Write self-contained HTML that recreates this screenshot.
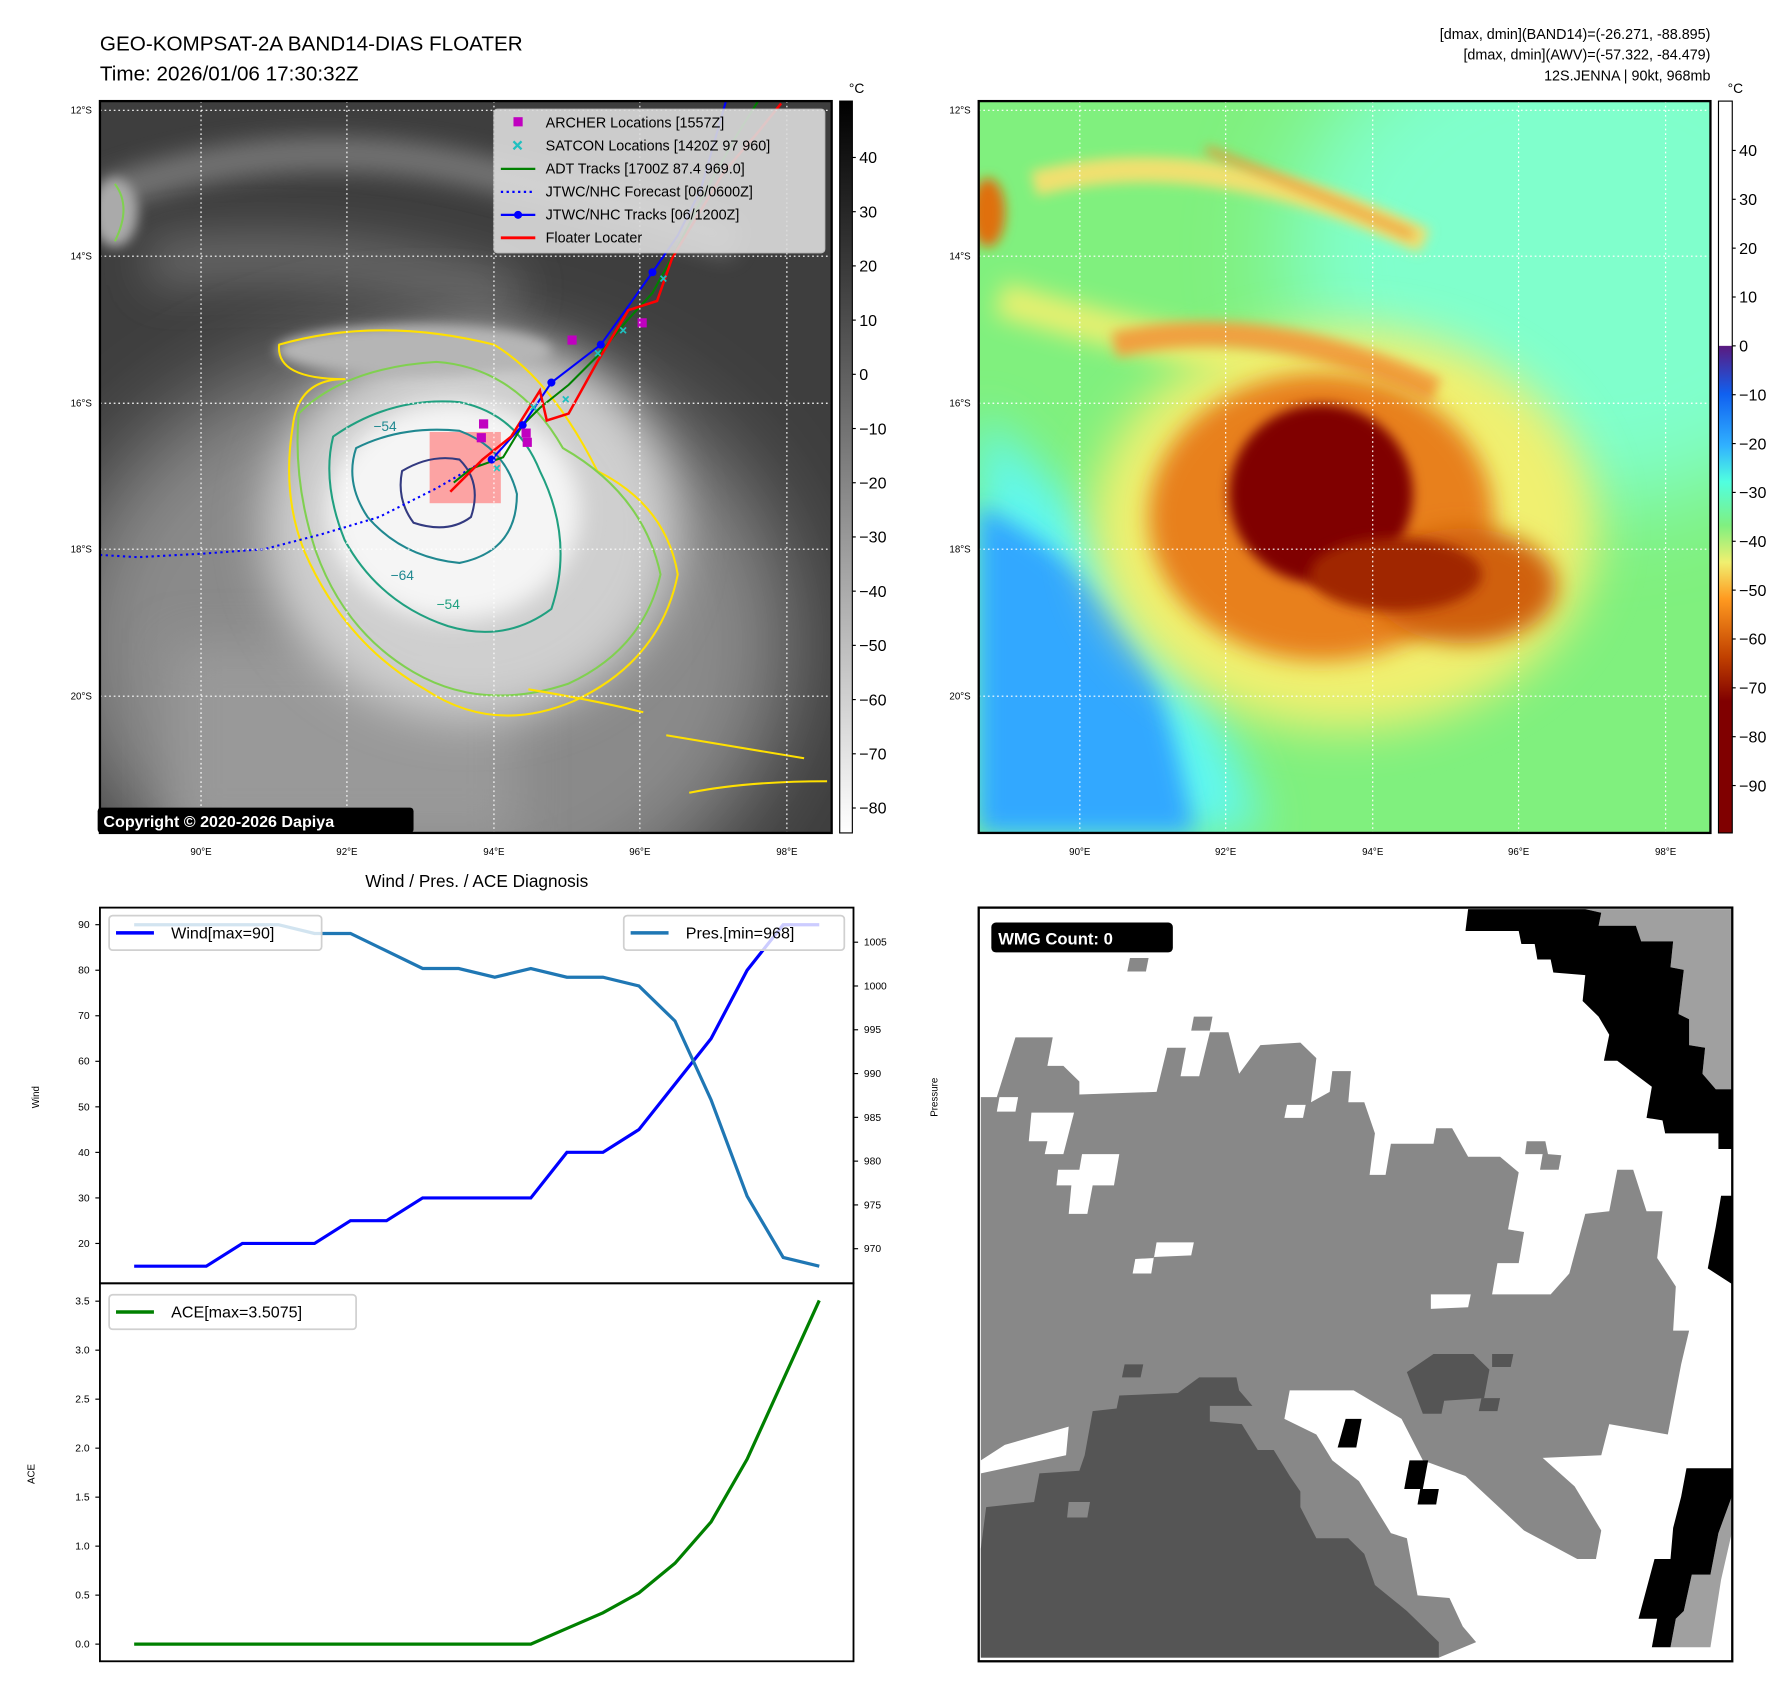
<!DOCTYPE html>
<html><head><meta charset="utf-8"><style>
html,body{margin:0;padding:0;background:#fff;}
svg{display:block;font-family:"Liberation Sans","DejaVu Sans",sans-serif;}
</style></head><body>
<svg id="root" width="1792" height="1690" viewBox="0 0 1560 1471" preserveAspectRatio="none" xmlns="http://www.w3.org/2000/svg">
<defs>
<filter id="b40" filterUnits="userSpaceOnUse" x="0" y="0" width="1600" height="1500"><feGaussianBlur stdDeviation="40"/></filter>
<filter id="b20" filterUnits="userSpaceOnUse" x="0" y="0" width="1600" height="1500"><feGaussianBlur stdDeviation="20"/></filter>
<filter id="b10" filterUnits="userSpaceOnUse" x="0" y="0" width="1600" height="1500"><feGaussianBlur stdDeviation="10"/></filter>
<filter id="b5" filterUnits="userSpaceOnUse" x="0" y="0" width="1600" height="1500"><feGaussianBlur stdDeviation="5"/></filter>
<clipPath id="c1"><rect x="87" y="88" width="637" height="637"/></clipPath>
<clipPath id="c2"><rect x="852" y="88" width="637" height="637"/></clipPath>
<clipPath id="c3"><rect x="852" y="790" width="656" height="656"/></clipPath>
<linearGradient id="gcb1" x1="0" y1="0" x2="0" y2="1"><stop offset="0" stop-color="#000"/><stop offset="1" stop-color="#fff"/></linearGradient>
<linearGradient id="gcb2" x1="0" y1="0" x2="0" y2="1">
<stop offset="0" stop-color="#fff"/><stop offset="0.334" stop-color="#fff"/>
<stop offset="0.335" stop-color="#5a1a80"/><stop offset="0.40" stop-color="#1060f0"/>
<stop offset="0.47" stop-color="#30b0ff"/><stop offset="0.52" stop-color="#50ffe0"/>
<stop offset="0.58" stop-color="#80f080"/><stop offset="0.63" stop-color="#f0f070"/>
<stop offset="0.68" stop-color="#ff9a20"/><stop offset="0.76" stop-color="#c04000"/>
<stop offset="0.82" stop-color="#800000"/><stop offset="1" stop-color="#800000"/>
</linearGradient>
</defs>

<text x="87" y="44" font-size="18">GEO-KOMPSAT-2A BAND14-DIAS FLOATER</text>
<text x="87" y="70" font-size="18">Time: 2026/01/06 17:30:32Z</text>
<g font-size="12.5" text-anchor="end">
<text x="1489" y="34">[dmax, dmin](BAND14)=(-26.271, -88.895)</text>
<text x="1489" y="52">[dmax, dmin](AWV)=(-57.322, -84.479)</text>
<text x="1489" y="70">12S.JENNA | 90kt, 968mb</text>
</g>

<!-- TOP LEFT MAP -->
<g clip-path="url(#c1)">
<rect x="87" y="88" width="637" height="637" fill="#3e3e3e"/>
<path d="M90,170 Q250,110 420,150 T640,210" stroke="#8a8a8a" stroke-width="30" fill="none" filter="url(#b10)" opacity="0.7"/>
<path d="M130,230 Q300,210 450,260" stroke="#6a6a6a" stroke-width="40" fill="none" filter="url(#b20)"/>
<ellipse cx="370" cy="560" rx="320" ry="260" fill="#8a8a8a" filter="url(#b40)"/>
<rect x="150" y="560" width="300" height="170" fill="#999" filter="url(#b20)"/>
<ellipse cx="410" cy="460" rx="180" ry="165" fill="#cfcfcf" filter="url(#b20)"/>
<ellipse cx="395" cy="445" rx="110" ry="95" fill="#f5f5f5" filter="url(#b10)"/>
<ellipse cx="360" cy="305" rx="120" ry="22" fill="#b5b5b5" filter="url(#b5)"/>
<ellipse cx="100" cy="185" rx="20" ry="30" fill="#aaa" filter="url(#b5)"/>
<rect x="374" y="376" width="62" height="62" fill="#ff8080" opacity="0.7"/>
<g fill="none" stroke-width="1.8" stroke-linejoin="round">
<path d="M243,300 Q330,275 430,300 Q480,330 520,410 Q580,440 590,500 Q575,575 500,610 Q430,640 370,600 Q300,560 265,480 Q245,430 255,370 Q260,330 300,330 Q240,330 243,300 Z" stroke="#ffe000"/>
<path d="M260,360 Q300,320 380,315 Q450,320 490,390 Q560,430 575,500 Q560,565 495,595 Q420,620 360,585 Q300,550 275,480 Q255,420 260,360 Z" stroke="#80d050"/>
<path d="M290,380 Q340,345 400,350 Q450,360 470,410 Q500,470 480,530 Q440,560 390,545 Q330,525 300,470 Q280,420 290,380 Z" stroke="#20a080"/>
<path d="M310,390 Q350,370 400,375 Q440,390 450,430 Q450,480 400,490 Q350,485 320,450 Q300,420 310,390 Z" stroke="#208890"/>
<path d="M350,410 Q375,395 400,400 Q420,420 410,450 Q390,465 360,455 Q345,435 350,410 Z" stroke="#333a80"/>
<path d="M100,160 Q115,180 100,210" stroke="#80d050"/>
<path d="M580,640 Q640,650 700,660 M600,690 Q650,680 720,680 M460,600 Q520,610 560,620" stroke="#ffe000"/>
</g>
<text x="325" y="375" font-size="12" fill="#208890">−54</text>
<text x="340" y="505" font-size="12" fill="#208890">−64</text>
<text x="380" y="530" font-size="12" fill="#20a080">−54</text>
<g fill="none" stroke-width="1.8">
<polyline points="87,483 120,485 175,482 230,478 280,465 330,450 380,425 420,402" stroke="#0000ff" stroke-dasharray="2,3"/>
<polyline points="395,420 410,408 438,398 455,370 470,355 495,335 520,310 545,280 568,255 590,215 615,165 640,120 660,88" stroke="#008000"/>
<polyline points="428,400 455,370 480,333 523,300 568,237 590,205 610,165 632,88" stroke="#0000ff"/>
<polyline points="392,428 420,400 445,380 470,340 476,366 495,360 520,315 547,270 572,262 585,225 600,200 630,150 660,115 680,90" stroke="#ff0000" stroke-width="2.2"/>
</g>
<g fill="#0000ff"><circle cx="428" cy="400" r="3.5"/><circle cx="455" cy="370" r="3.5"/><circle cx="480" cy="333" r="3.5"/><circle cx="523" cy="300" r="3.5"/><circle cx="568" cy="237" r="3.5"/></g>
<g fill="#c000c0"><rect x="417" y="365" width="8" height="8"/><rect x="415" y="377" width="8" height="8"/><rect x="454" y="373" width="8" height="8"/><rect x="455" y="381" width="8" height="8"/><rect x="494" y="292" width="8" height="8"/><rect x="555" y="277" width="8" height="8"/></g>
<g stroke="#20c0c0" stroke-width="1.5"><path d="M430,405l5,5m0,-5l-5,5M462,352l5,5m0,-5l-5,5M490,345l5,5m0,-5l-5,5M518,305l5,5m0,-5l-5,5M540,285l5,5m0,-5l-5,5M575,240l5,5m0,-5l-5,5"/></g>
<g stroke="#ffffff" stroke-width="1" stroke-dasharray="1.5,2.5">
<line x1="175" y1="88" x2="175" y2="725"/><line x1="302" y1="88" x2="302" y2="725"/><line x1="430" y1="88" x2="430" y2="725"/><line x1="557" y1="88" x2="557" y2="725"/><line x1="685" y1="88" x2="685" y2="725"/>
<line x1="87" y1="96" x2="724" y2="96"/><line x1="87" y1="223" x2="724" y2="223"/><line x1="87" y1="351" x2="724" y2="351"/><line x1="87" y1="478" x2="724" y2="478"/><line x1="87" y1="606" x2="724" y2="606"/>
</g>
</g>
<rect x="87" y="88" width="637" height="637" fill="none" stroke="#000" stroke-width="2"/>
<g>
<rect x="430" y="95" width="288" height="125" rx="3" fill="#dcdcdc" opacity="0.9" stroke="#ccc"/>
<rect x="447" y="102" width="8" height="8" fill="#c000c0"/>
<path d="M447,123l7,7m0,-7l-7,7" stroke="#20c0c0" stroke-width="2"/>
<line x1="436" y1="147" x2="466" y2="147" stroke="#008000" stroke-width="2"/>
<line x1="436" y1="167" x2="466" y2="167" stroke="#0000ff" stroke-width="2" stroke-dasharray="2,3"/>
<line x1="436" y1="187" x2="466" y2="187" stroke="#0000ff" stroke-width="2"/><circle cx="451" cy="187" r="3.5" fill="#0000ff"/>
<line x1="436" y1="207" x2="466" y2="207" stroke="#ff0000" stroke-width="2.5"/>
<g font-size="12.5">
<text x="475" y="111">ARCHER Locations [1557Z]</text>
<text x="475" y="131">SATCON Locations [1420Z 97 960]</text>
<text x="475" y="151">ADT Tracks [1700Z 87.4 969.0]</text>
<text x="475" y="171">JTWC/NHC Forecast [06/0600Z]</text>
<text x="475" y="191">JTWC/NHC Tracks [06/1200Z]</text>
<text x="475" y="211">Floater Locater</text>
</g></g>
<g>
<rect x="85" y="703" width="275" height="22" rx="3" fill="#000"/>
<text x="90" y="720" font-size="14" font-weight="bold" fill="#fff">Copyright © 2020-2026 Dapiya</text>
</g>
<g font-size="8.5" text-anchor="end">
<text x="80" y="99">12°S</text><text x="80" y="226">14°S</text><text x="80" y="354">16°S</text><text x="80" y="481">18°S</text><text x="80" y="609">20°S</text>
</g>
<g font-size="8.5" text-anchor="middle">
<text x="175" y="744">90°E</text><text x="302" y="744">92°E</text><text x="430" y="744">94°E</text><text x="557" y="744">96°E</text><text x="685" y="744">98°E</text>
</g>
<g>
<rect x="731" y="88" width="11" height="637" fill="url(#gcb1)" stroke="#000" stroke-width="1"/>
<text x="739" y="81" font-size="12">°C</text>
<g font-size="14" id="cb1t"></g>
</g>

<!-- TOP RIGHT MAP -->
<g clip-path="url(#c2)">
<rect x="852" y="88" width="637" height="637" fill="#80f07e"/>
<ellipse cx="1380" cy="220" rx="260" ry="220" fill="#80ffcc" filter="url(#b40)"/>
<path d="M852,360 Q960,450 1040,580 Q1080,660 1100,725 L852,725 Z" fill="#60f8f0" filter="url(#b20)"/>
<path d="M852,440 Q960,490 1010,600 Q1030,670 1040,725 L852,725 Z" fill="#30a8ff" filter="url(#b10)"/>
<path d="M900,160 Q1050,120 1240,210" stroke="#f0e070" stroke-width="22" fill="none" filter="url(#b5)"/>
<path d="M1050,130 Q1150,170 1230,205" stroke="#f09030" stroke-width="6" fill="none" filter="url(#b5)"/>
<path d="M870,260 Q1000,300 1270,350" stroke="#e8f070" stroke-width="30" fill="none" filter="url(#b10)"/>
<ellipse cx="1170" cy="460" rx="220" ry="175" fill="#f0f070" filter="url(#b20)"/>
<path d="M970,300 Q1100,270 1250,340" stroke="#f0a040" stroke-width="22" fill="none" filter="url(#b5)"/>
<ellipse cx="1150" cy="450" rx="150" ry="125" fill="#e8801a" filter="url(#b10)"/>
<ellipse cx="1275" cy="510" rx="80" ry="50" fill="#d06010" filter="url(#b10)"/>
<ellipse cx="1150" cy="430" rx="80" ry="78" fill="#800000" filter="url(#b5)"/>
<ellipse cx="1215" cy="500" rx="75" ry="32" fill="#a02800" filter="url(#b5)"/>
<ellipse cx="860" cy="185" rx="15" ry="30" fill="#e07010" filter="url(#b5)"/>
<g stroke="#ffffff" stroke-width="1" stroke-dasharray="1.5,2.5">
<line x1="940" y1="88" x2="940" y2="725"/><line x1="1067" y1="88" x2="1067" y2="725"/><line x1="1195" y1="88" x2="1195" y2="725"/><line x1="1322" y1="88" x2="1322" y2="725"/><line x1="1450" y1="88" x2="1450" y2="725"/>
<line x1="852" y1="96" x2="1489" y2="96"/><line x1="852" y1="223" x2="1489" y2="223"/><line x1="852" y1="351" x2="1489" y2="351"/><line x1="852" y1="478" x2="1489" y2="478"/><line x1="852" y1="606" x2="1489" y2="606"/>
</g>
</g>
<rect x="852" y="88" width="637" height="637" fill="none" stroke="#000" stroke-width="2"/>
<g font-size="8.5" text-anchor="end">
<text x="845" y="99">12°S</text><text x="845" y="226">14°S</text><text x="845" y="354">16°S</text><text x="845" y="481">18°S</text><text x="845" y="609">20°S</text>
</g>
<g font-size="8.5" text-anchor="middle">
<text x="940" y="744">90°E</text><text x="1067" y="744">92°E</text><text x="1195" y="744">94°E</text><text x="1322" y="744">96°E</text><text x="1450" y="744">98°E</text>
</g>
<g>
<rect x="1496" y="88" width="12" height="637" fill="url(#gcb2)" stroke="#000" stroke-width="1"/>
<text x="1504" y="81" font-size="12">°C</text>
<g font-size="14" id="cb2t"></g>
</g>

<text x="415" y="772" font-size="15" text-anchor="middle">Wind / Pres. / ACE Diagnosis</text>
<g id="chart"></g>

<g clip-path="url(#c3)">
<rect x="852" y="790" width="656" height="656" fill="#fff"/>
<g transform="translate(852,790) scale(0.4636,0.4518) translate(-26,-45)">
<polygon fill="#888" points="30,410 60,410 95,295 165,295 155,350 185,350 215,380 215,405 360,400 380,315 415,315 405,370 440,370 460,285 495,285 515,365 555,310 630,305 660,335 650,420 685,400 690,360 725,360 720,420 750,420 770,480 760,560 790,560 800,500 880,500 885,470 915,470 945,525 1005,525 1040,555 1020,665 1050,670 1040,730 1000,730 990,790 1100,790 1135,750 1165,635 1210,630 1225,550 1255,550 1280,630 1310,630 1300,720 1335,775 1330,860 1360,860 1345,925 1320,1060 1210,1040 1195,1100 1085,1105 1145,1160 1195,1245 1185,1300 1150,1300 1050,1245 940,1140 860,1110 820,1030 730,975 610,975 600,1030 660,1060 690,1110 740,1150 770,1200 800,1250 830,1260 850,1370 910,1375 935,1430 960,1460 890,1490 30,1490"/>
<polygon fill="#555" points="30,1280 40,1200 130,1190 140,1135 215,1130 225,1100 240,1015 285,1010 290,985 400,980 440,950 510,950 515,975 540,1005 460,1005 460,1035 520,1040 550,1090 580,1090 610,1140 630,1170 630,1200 660,1260 720,1260 750,1290 770,1350 830,1400 860,1430 890,1460 890,1490 30,1490"/>
<polygon fill="#555" points="830,940 880,905 955,905 985,935 975,990 900,995 895,1020 860,1020"/>
<polygon fill="#555" points="990,905 1030,905 1025,930 990,930"/>
<polygon fill="#555" points="970,990 1005,990 1000,1015 965,1015"/>
<polygon fill="#555" points="300,925 335,925 330,950 295,950"/>
<polygon fill="#fff" points="30,1110 75,1080 195,1045 190,1100 30,1135"/>
<polygon fill="#fff" points="65,410 100,410 95,438 60,438"/>
<polygon fill="#fff" points="125,440 205,440 185,520 150,520 155,495 120,495"/>
<polygon fill="#fff" points="175,550 215,550 220,520 290,520 280,580 240,580 230,635 195,635 200,580 172,580"/>
<polygon fill="#fff" points="360,690 430,690 425,715 355,718 350,750 315,750 320,722 355,720"/>
<polygon fill="#fff" points="605,425 640,425 635,450 600,450"/>
<polygon fill="#fff" points="875,790 950,790 945,815 875,818"/>
<polygon fill="#888" points="310,142 345,142 340,168 305,168"/>
<polygon fill="#888" points="430,255 465,255 460,282 425,282"/>
<polygon fill="#888" points="1055,495 1090,495 1095,520 1120,522 1115,550 1080,550 1085,520 1052,520"/>
<polygon fill="#888" points="195,1190 235,1190 230,1220 192,1220"/>
<polygon fill="#a0a0a0" points="1165,48 1440,48 1440,395 1410,395 1385,365 1390,315 1360,310 1360,260 1340,250 1350,165 1325,160 1330,110 1270,110 1260,80 1190,80 1195,55"/>
<polygon fill="#000" points="945,48 1165,48 1195,55 1190,80 1260,80 1270,110 1330,110 1325,160 1350,165 1340,250 1360,260 1360,310 1390,315 1385,365 1410,395 1440,395 1440,510 1415,510 1415,480 1315,480 1310,455 1280,450 1290,390 1225,340 1200,340 1210,290 1190,255 1160,225 1165,175 1105,170 1100,145 1075,145 1070,115 1045,115 1040,90 940,90"/>
<polygon fill="#000" points="1420,600 1440,600 1440,770 1395,740 1410,660"/>
<polygon fill="#a0a0a0" points="1440,1180 1440,1250 1420,1340 1400,1470 1325,1470 1335,1415 1350,1400 1365,1330 1400,1330 1415,1250"/>
<polygon fill="#000" points="1355,1125 1440,1125 1440,1180 1415,1250 1400,1330 1365,1330 1350,1400 1335,1415 1325,1470 1290,1470 1300,1415 1265,1415 1295,1300 1325,1300 1330,1240 1345,1180"/>
<polygon fill="#000" points="715,1030 745,1030 735,1085 700,1085"/>
<polygon fill="#000" points="835,1110 870,1110 860,1165 825,1165"/>
<polygon fill="#000" points="855,1165 890,1165 885,1195 850,1195"/>
</g>
</g>
<rect x="852" y="790" width="656" height="656" fill="none" stroke="#000" stroke-width="2"/>
<g>
<rect x="863" y="803" width="158" height="26" rx="4" fill="#000"/>
<text x="869" y="822" font-size="14.5" font-weight="bold" fill="#fff">WMG Count: 0</text>
</g>
</svg>

<script>
const windVals = [15,15,15,20,20,20,25,25,30,30,30,30,40,40,45,55,65,80,90,90];
const presVals = [1007,1007,1007,1007,1007,1006,1006,1004,1002,1002,1001,1002,1001,1001,1000,996,987,976,969,968];
const aceVals = [0,0,0,0,0,0,0,0,0,0,0,0,0.16,0.32,0.5225,0.825,1.2475,1.8875,2.6975,3.5075];
const windTicks = [20,30,40,50,60,70,80,90];
const presTicks = [970,975,980,985,990,995,1000,1005];
const aceTicks = [0.0,0.5,1.0,1.5,2.0,2.5,3.0,3.5];
const cb1Ticks = [40,30,20,10,0,-10,-20,-30,-40,-50,-60,-70,-80];
const cb2Ticks = [40,30,20,10,0,-10,-20,-30,-40,-50,-60,-70,-80,-90];

const NS = 'http://www.w3.org/2000/svg';
function mk(tag, attrs, parent){const e=document.createElementNS(NS,tag);for(const k in attrs)e.setAttribute(k,attrs[k]);parent.appendChild(e);return e;}

const L=87,R=743,T1=790,B1=1117,T2=1117,B2=1446;
const xS = i => L + (i - (-0.95)) / (19.95 - (-0.95)) * (R - L);
const wMin=11.25,wMax=93.75, pMin=966.05,pMax=1008.95, aMin=-0.175,aMax=3.6825;
const wY = v => B1 - (v - wMin)/(wMax-wMin)*(B1-T1);
const pY = v => B1 - (v - pMin)/(pMax-pMin)*(B1-T1);
const aY = v => B2 - (v - aMin)/(aMax-aMin)*(B2-T2);

const chart = document.getElementById('chart');
function pathOf(vals, yf){return vals.map((v,i)=>(i?'L':'M')+xS(i).toFixed(1)+','+yf(v).toFixed(1)).join(' ');}

const lw = mk('path',{d:pathOf(windVals,wY),stroke:'#0000ff','stroke-width':2.8,fill:'none'},chart);


const lp = mk('path',{d:pathOf(presVals,pY),stroke:'#1f77b4','stroke-width':2.8,fill:'none'},chart);


const la = mk('path',{d:pathOf(aceVals,aY),stroke:'#008000','stroke-width':2.8,fill:'none'},chart);



mk('rect',{x:L,y:T1,width:R-L,height:B1-T1,fill:'none',stroke:'#000','stroke-width':1.6},chart);
mk('rect',{x:L,y:T2,width:R-L,height:B2-T2,fill:'none',stroke:'#000','stroke-width':1.6},chart);

windTicks.forEach(v=>{const y=wY(v);
 mk('line',{x1:L-4,y1:y,x2:L,y2:y,stroke:'#000'},chart);
 const t=mk('text',{x:L-9,y:y+3,'font-size':9,'text-anchor':'end'},chart);t.textContent=v;
 
 });
presTicks.forEach(v=>{const y=pY(v);
 mk('line',{x1:R,y1:y,x2:R+4,y2:y,stroke:'#000'},chart);
 const t=mk('text',{x:R+9,y:y+3,'font-size':9},chart);t.textContent=v;
 
 });
aceTicks.forEach(v=>{const y=aY(v);
 mk('line',{x1:L-4,y1:y,x2:L,y2:y,stroke:'#000'},chart);
 const t=mk('text',{x:L-9,y:y+3,'font-size':9,'text-anchor':'end'},chart);t.textContent=v.toFixed(1);
 
 });

function ylab(txt,x,y,name){const t=mk('text',{x:x,y:y,'font-size':8.5,'text-anchor':'middle',transform:'rotate(-90 '+x+' '+y+')'},chart);t.textContent=txt;
 
 }
ylab('Wind',34,955,'wind-axis-title');
ylab('Pressure',816,955,'pressure-axis-title');
ylab('ACE',30,1283,'ace-axis-title');

function legend(x,y,w,color,txt,name){const g=mk('g',{},chart);
 
 
 mk('rect',{x:x,y:y,width:w,height:30,rx:3,fill:'#fff','fill-opacity':0.8,stroke:'#d0d0d0','stroke-width':1.5},g);
 mk('line',{x1:x+6,y1:y+15,x2:x+39,y2:y+15,stroke:color,'stroke-width':3},g);
 const t=mk('text',{x:x+54,y:y+20,'font-size':14},g);t.textContent=txt;}
legend(95,797,185,'#0000ff','Wind[max=90]','wind-legend');
legend(543,797,192,'#1f77b4','Pres.[min=968]','pressure-legend');
legend(95,1127,215,'#008000','ACE[max=3.5075]','ace-legend');

const cb1=document.getElementById('cb1t');
const cb1Y = v => 88 + (50.4 - v)/(50.4+84.6)*637;
cb1Ticks.forEach(v=>{const y=cb1Y(v);
 mk('line',{x1:742,y1:y,x2:745,y2:y,stroke:'#000'},cb1);
 const t=mk('text',{x:748,y:y+5},cb1);t.textContent=v<0?'\u2212'+(-v):v;
 
 });
const cb2=document.getElementById('cb2t');
const cb2Y = v => 88 + (50.1 - v)/(50.1+99.7)*637;
cb2Ticks.forEach(v=>{const y=cb2Y(v);
 mk('line',{x1:1508,y1:y,x2:1511,y2:y,stroke:'#000'},cb2);
 const t=mk('text',{x:1514,y:y+5},cb2);t.textContent=v<0?'\u2212'+(-v):v;
 
 });
</script>
</body></html>
